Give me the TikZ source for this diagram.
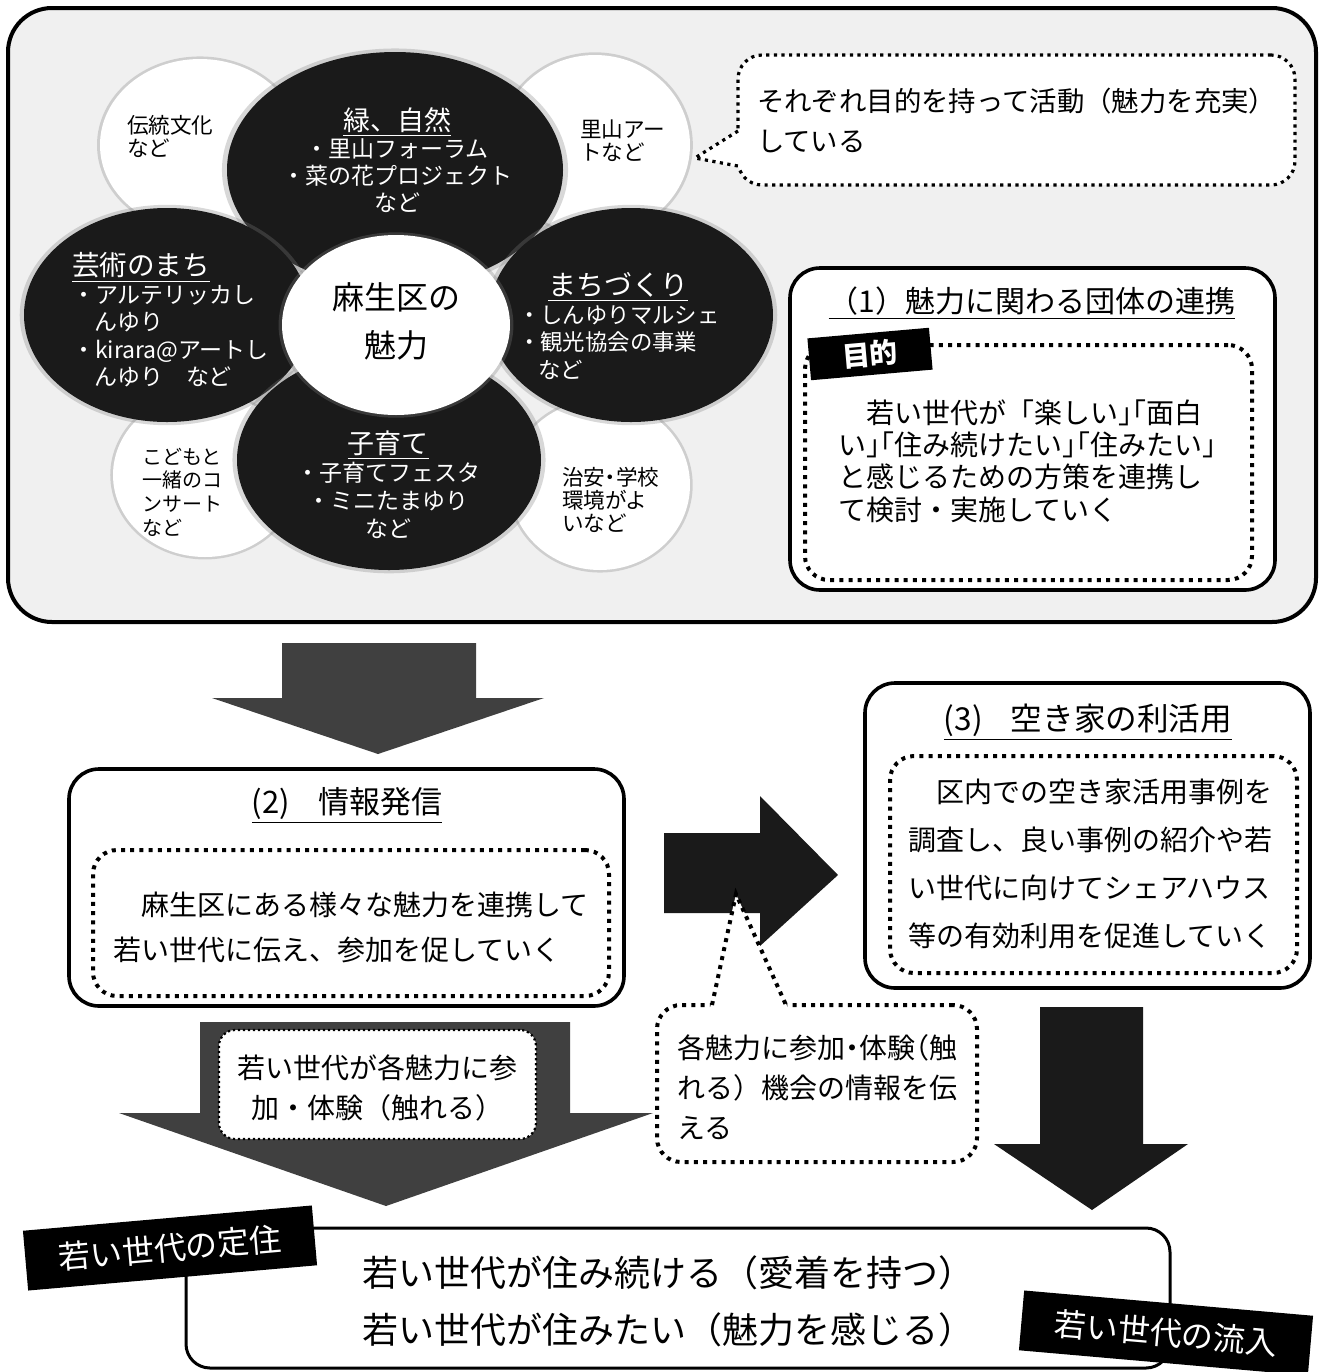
\documentclass[tikz,border=0pt]{standalone}
\usepackage{fontspec}
\setmainfont{Noto Sans CJK JP}
\usetikzlibrary{shapes.geometric,shadows}
\definecolor{panelbg}{HTML}{F0F0F0}
\definecolor{arrowgray}{HTML}{404040}
\definecolor{ink}{HTML}{1A1A1A}
\newcommand{\hw}[1]{{\addfontfeature{RawFeature=+halt}#1}}
\newcommand{\setfs}[2]{\fontsize{#1}{#2}\selectfont}

\begin{document}
\begin{tikzpicture}[
  x=0.5pt, y=-0.5pt,
  every node/.style={outer sep=0pt},
  bigpanel/.style={draw=black, line width=2pt, rounded corners=22pt, fill=panelbg},
  panel/.style={draw=black, line width=1.8pt, rounded corners=15pt, fill=white},
  dotbox/.style={draw=black, line width=2pt, dash pattern=on 2pt off 2.6pt, rounded corners=12pt},
  dotline/.style={draw=black, line width=2pt, dash pattern=on 2pt off 2.6pt},
  petal/.style={ellipse, fill=ink, inner sep=0pt,
                drop shadow={opacity=0.3, shadow xshift=0pt, shadow yshift=0pt, shadow scale=1.03}},
  leaf/.style={petal, fill=white},
  tag/.style={fill=black, text=white, inner sep=0pt},
  txt/.style={inner sep=0pt, align=left},
  wtxt/.style={txt, text=white},
  blockarrow/.style={fill=arrowgray},
]
  \useasboundingbox (0,0) rectangle (1322,1372);

  % upper panel: the flower
  \node[bigpanel, minimum width=654pt, minimum height=307pt] (frame) at (662,315) {};

  \node[leaf, minimum width=100pt, minimum height=86pt] (trad)     at (200,145) {};
  \node[leaf, minimum width=95pt,  minimum height=90pt] (satoyama) at (595,145) {};
  \node[leaf, minimum width=92pt,  minimum height=82pt] (concert)  at (205,475) {};
  \node[leaf, minimum width=90pt,  minimum height=85pt] (safety)   at (600,485) {};

  \node[petal, minimum width=168pt, minimum height=118pt] (green) at (395,170) {};
  \node[petal, minimum width=143pt, minimum height=107pt] (arts)  at (167,315) {};
  \node[petal, minimum width=142pt, minimum height=107pt] (town)  at (631,315) {};
  \node[petal, minimum width=152pt, minimum height=110pt] (kids)  at (389,460) {};
  \node[petal, fill=white, minimum width=114pt, minimum height=90pt] (core) at (396,325) {};

  \node[wtxt, align=center, font=\setfs{11.5pt}{13.5pt}] (greentxt) at (397,160)
    {{\setfs{13.5pt}{13.5pt}\underline{緑、自然}}\\・里山フォーラム\\・菜の花プロジェクト\\など};
  \node[wtxt, anchor=west, font=\setfs{11.5pt}{13.75pt}] (artstxt) at (72,320)
    {{\setfs{13.8pt}{13.75pt}\underline{芸術のまち}}\\・アルテリッカし\\\hspace*{11pt}んゆり\\・kirara@アートし\\\hspace*{11pt}んゆり　など};
  \node[wtxt, anchor=west, font=\setfs{11.2pt}{13.8pt}] (towntxt) at (518,326)
    {\hspace*{15pt}{\setfs{14pt}{13.8pt}\underline{まちづくり}}\\・しんゆりマルシェ\\・観光協会の事業\\\hspace*{10pt}など};
  \node[wtxt, align=center, font=\setfs{11.5pt}{14pt}] (kidstxt) at (388,485)
    {{\setfs{13.5pt}{14pt}\underline{子育て}}\\・子育てフェスタ\\・ミニたまゆり\\など};
  \node[txt, align=center, font=\setfs{16pt}{24pt}] (coretxt) at (396,321) {麻生区の\\魅力};

  \node[txt, anchor=west, font=\setfs{10.8pt}{11.5pt}] (tradtxt)     at (127,136) {伝統文化\\など};
  \node[txt, anchor=west, font=\setfs{10.8pt}{11.5pt}] (satoyamatxt) at (580,141) {里山アー\\トなど};
  \node[txt, anchor=west, font=\setfs{10pt}{11.8pt}]   (concerttxt)  at (142,492) {こどもと\\一緒のコ\\ンサート\\など};
  \node[txt, anchor=west, font=\setfs{10.8pt}{11.3pt}] (safetytxt)   at (562,500) {治安\hw{・}学校\\環境がよ\\いなど};

  % callout beside the flower
  \node[dotbox, fill=white, line width=1.6pt, dash pattern=on 1.6pt off 2.2pt,
        minimum width=278.5pt, minimum height=65pt] (note) at (1016.5,120) {};
  \coordinate (notetip) at (695,158);
  \fill[white] ([xshift=1.5pt, yshift=-4.5pt]note.west) -- (notetip) -- ([xshift=1.5pt, yshift=-24pt]note.west) -- cycle;
  \draw[dotline, line width=1.6pt, dash pattern=on 1.6pt off 2.2pt]
    ([yshift=-5.5pt]note.west) -- (notetip) -- ([yshift=-23pt]note.west);
  \node[txt, anchor=west, font=\setfs{13.7pt}{20pt}] (notetxt) at (757,120)
    {それぞれ目的を持って活動（魅力を充実）\\している};

  % (1)
  \node[panel, minimum width=242.5pt, minimum height=161pt] (sec1) at (1032.5,429) {};
  \node[txt, font=\setfs{15pt}{15pt}] (sec1title) at (1032,303) {\underline{（1）魅力に関わる団体の連携}};
  \node[dotbox, minimum width=223.5pt, minimum height=117.5pt] (aim) at (1028.5,462.5) {};
  \node[tag, rotate=5, minimum width=61pt, minimum height=21pt, font=\setfs{14pt}{14pt}\bfseries]
    (aimtag) at (870,354) {目的};
  \node[txt, anchor=west, font=\setfs{14pt}{16.2pt}] (aimtxt) at (838,461)
    {　若い世代が「楽しい\hw{」「}面白\\い\hw{」「}住み続けたい\hw{」「}住みたい\hw{」}\\と感じるための方策を連携し\\て検討・実施していく};

  \fill[blockarrow] (282,643) -- (476,643) -- (476,698) -- (544,698) -- (378,754) -- (212,698) -- (282,698) -- cycle;

  % (2)
  \node[panel, minimum width=277.5pt, minimum height=118.5pt] (sec2) at (346.5,887.5) {};
  \node[txt, font=\setfs{15.5pt}{15.5pt}] (sec2title) at (347,806) {\underline{(2)\hspace{14pt}情報発信}};
  \node[dotbox, minimum width=258pt, minimum height=73pt] (info) at (351,923) {};
  \node[txt, anchor=west, font=\setfs{14pt}{22.5pt}] (infotxt) at (113,927)
    {　麻生区にある様々な魅力を連携して\\若い世代に伝え、参加を促していく};

  \fill[blockarrow] (200,1022) -- (570,1022) -- (570,1113) -- (653,1113) -- (386,1206) -- (119,1113) -- (200,1113) -- cycle;
  \node[draw=black, fill=white, line width=1.1pt, dash pattern=on 1.1pt off 1.4pt, rounded corners=8pt,
        minimum width=158.5pt, minimum height=54.5pt] (join) at (377.5,1084.5) {};
  \node[txt, align=center, font=\setfs{14pt}{20pt}] (jointxt) at (377,1088)
    {若い世代が各魅力に参\\加・体験（触れる）};

  \fill[ink] (664,833) -- (760,833) -- (760,796) -- (838,875) -- (760,946) -- (760,913) -- (664,913) -- cycle;

  % callout under the right arrow
  \node[dotbox, fill=white, minimum width=160pt, minimum height=78.5pt] (hint) at (817,1083.5) {};
  \coordinate (hinttip) at (736,894);
  \fill[white] ([xshift=-53.5pt, yshift=-1.5pt]hint.north) -- (hinttip) -- ([xshift=-14.5pt, yshift=-1.5pt]hint.north) -- cycle;
  \draw[dotline] ([xshift=-52.5pt]hint.north) -- (hinttip) -- ([xshift=-15.5pt]hint.north);
  \node[txt, anchor=west, font=\setfs{14pt}{20pt}] (hinttxt) at (677,1087)
    {各魅力に参加\hw{・}体験\hw{（}触\\れる）機会の情報を伝\\える};

  % (3)
  \node[panel, minimum width=222.5pt, minimum height=152.5pt] (sec3) at (1087.5,835.5) {};
  \node[txt, font=\setfs{15.8pt}{15.8pt}] (sec3title) at (1088,722) {\underline{(3)\hspace{14pt}空き家の利活用}};
  \node[dotbox, minimum width=203.5pt, minimum height=108.5pt] (vacant) at (1093.5,864.5) {};
  \node[txt, anchor=west, font=\setfs{14pt}{24pt}] (vacanttxt) at (908,864)
    {　区内での空き家活用事例を\\調査し、良い事例の紹介や若\\い世代に向けてシェアハウス\\等の有効利用を促進していく};

  \fill[ink] (1040,1007) -- (1143,1007) -- (1143,1144) -- (1188,1144) -- (1092,1210) -- (994,1144) -- (1040,1144) -- cycle;

  % goal
  \node[panel, line width=1.5pt, rounded corners=12pt, minimum width=492pt, minimum height=70pt] (goal) at (678,1298) {};
  \node[txt, anchor=west, font=\setfs{18pt}{28.5pt}] (goaltxt) at (362,1301)
    {若い世代が住み続ける（愛着を持つ）\\若い世代が住みたい（魅力を感じる）};
  \node[tag, rotate=5, minimum width=145pt, minimum height=30pt, font=\setfs{16pt}{16pt}] (settle) at (170,1248) {若い世代の定住};
  \node[tag, rotate=-5, minimum width=145pt, minimum height=30pt, font=\setfs{16pt}{16pt}] (inflow) at (1166,1333) {若い世代の流入};
\end{tikzpicture}
\end{document}
